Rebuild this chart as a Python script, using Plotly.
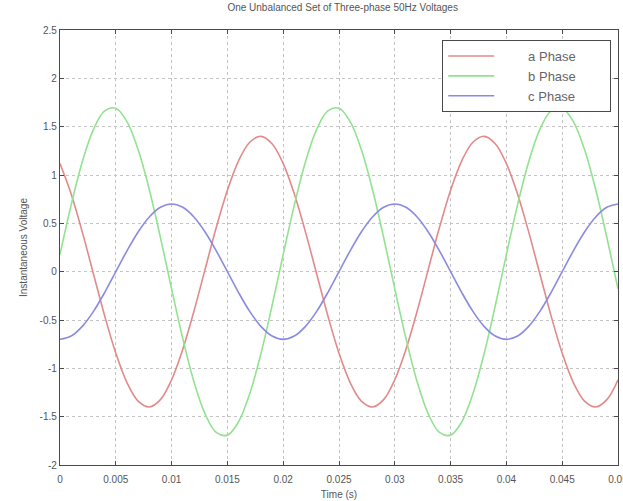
import plotly.graph_objects as go

time_s = [0.000, 0.001, 0.002, 0.003, 0.004, 0.005, 0.006, 0.007, 0.008, 0.009,
          0.010, 0.011, 0.012, 0.013, 0.014, 0.015, 0.016, 0.017, 0.018, 0.019,
          0.020, 0.021, 0.022, 0.023, 0.024, 0.025, 0.026, 0.027, 0.028, 0.029,
          0.030, 0.031, 0.032, 0.033, 0.034, 0.035, 0.036, 0.037, 0.038, 0.039,
          0.040, 0.041, 0.042, 0.043, 0.044, 0.045, 0.046, 0.047, 0.048, 0.049,
          0.050]

a_phase = [1.118, 0.803, 0.409, -0.024, -0.456, -0.843, -1.147, -1.339, -1.400, -1.324,
           -1.118, -0.803, -0.409, 0.024, 0.456, 0.843, 1.147, 1.339, 1.400, 1.324,
           1.118, 0.803, 0.409, -0.024, -0.456, -0.843, -1.147, -1.339, -1.400, -1.324,
           -1.118, -0.803, -0.409, 0.024, 0.456, 0.843, 1.147, 1.339, 1.400, 1.324,
           1.118, 0.803, 0.409, -0.024, -0.456, -0.843, -1.147, -1.339, -1.400, -1.324,
           -1.118]

b_phase = [0.178, 0.691, 1.138, 1.472, 1.663, 1.691, 1.553, 1.263, 0.850, 0.353,
           -0.178, -0.691, -1.138, -1.472, -1.663, -1.691, -1.553, -1.263, -0.850, -0.353,
           0.178, 0.691, 1.138, 1.472, 1.663, 1.691, 1.553, 1.263, 0.850, 0.353,
           -0.178, -0.691, -1.138, -1.472, -1.663, -1.691, -1.553, -1.263, -0.850, -0.353,
           0.178, 0.691, 1.138, 1.472, 1.663, 1.691, 1.553, 1.263, 0.850, 0.353,
           -0.178]

c_phase = [-0.700, -0.666, -0.566, -0.411, -0.216, 0.000, 0.216, 0.411, 0.566, 0.666,
           0.700, 0.666, 0.566, 0.411, 0.216, 0.000, -0.216, -0.411, -0.566, -0.666,
           -0.700, -0.666, -0.566, -0.411, -0.216, 0.000, 0.216, 0.411, 0.566, 0.666,
           0.700, 0.666, 0.566, 0.411, 0.216, 0.000, -0.216, -0.411, -0.566, -0.666,
           -0.700, -0.666, -0.566, -0.411, -0.216, 0.000, 0.216, 0.411, 0.566, 0.666,
           0.700]

series_names = ["a Phase", "b Phase", "c Phase"]
series_colors = ["#e28a8a", "#92e292", "#8a8ae2"]

x_ticks = [0, 0.005, 0.01, 0.015, 0.02, 0.025, 0.03, 0.035, 0.04, 0.045, 0.05]
x_tick_labels = ["0", "0.005", "0.01", "0.015", "0.02", "0.025", "0.03", "0.035", "0.04", "0.045", "0.05"]
y_ticks = [-2, -1.5, -1, -0.5, 0, 0.5, 1, 1.5, 2, 2.5]
y_tick_labels = ["-2", "-1.5", "-1", "-0.5", "0", "0.5", "1", "1.5", "2", "2.5"]

NB = "\u00a0"

fig = go.Figure()
for name, ys, col in zip(series_names, [a_phase, b_phase, c_phase], series_colors):
    fig.add_trace(go.Scatter(x=time_s, y=ys, mode="lines",
                             name=NB * 8 + name + NB * 8,
                             line=dict(color=col, width=1.6, shape="spline", smoothing=1.0)))

axis_common = dict(showline=True, linecolor="#4a4a4a", linewidth=1.3, mirror="ticks",
                   ticks="inside", ticklen=4, tickcolor="#4a4a4a",
                   showgrid=True, gridcolor="#c4c4c4", griddash="dot", gridwidth=1,
                   zeroline=False, ticklabeloverflow="allow", automargin=False,
                   tickfont=dict(size=10, color="#555555", family="Liberation Sans"))

fig.update_xaxes(range=[0, 0.0500001], tickvals=x_ticks, ticktext=x_tick_labels,
                 ticklabelstandoff=5,
                 title=dict(text="Time (s)", font=dict(size=10, color="#555555"), standoff=6),
                 **axis_common)
fig.update_yaxes(range=[-2, 2.5], tickvals=y_ticks, ticktext=y_tick_labels,
                 title=dict(text="Instantaneous Voltage", font=dict(size=10, color="#555555"), standoff=10),
                 **axis_common)

fig.update_layout(
    width=623, height=501,
    margin=dict(l=60, r=5, t=30, b=36),
    paper_bgcolor="white", plot_bgcolor="white",
    font=dict(family="Liberation Sans", color="#555555"),
    title=dict(text="One Unbalanced Set of Three-phase 50Hz Voltages",
               font=dict(size=10, color="#555555"), x=0.55, xanchor="center",
               y=0.992, yanchor="top"),
    legend=dict(x=0.685, y=0.977, xanchor="left", yanchor="top",
                bgcolor="white", bordercolor="#4a4a4a", borderwidth=1,
                font=dict(size=13, color="#666666"), itemwidth=46,
                tracegroupgap=0),
    showlegend=True,
)

fig.write_html("out.html", config={"displayModeBar": False},
               post_script="document.body.style.margin='0px';")
